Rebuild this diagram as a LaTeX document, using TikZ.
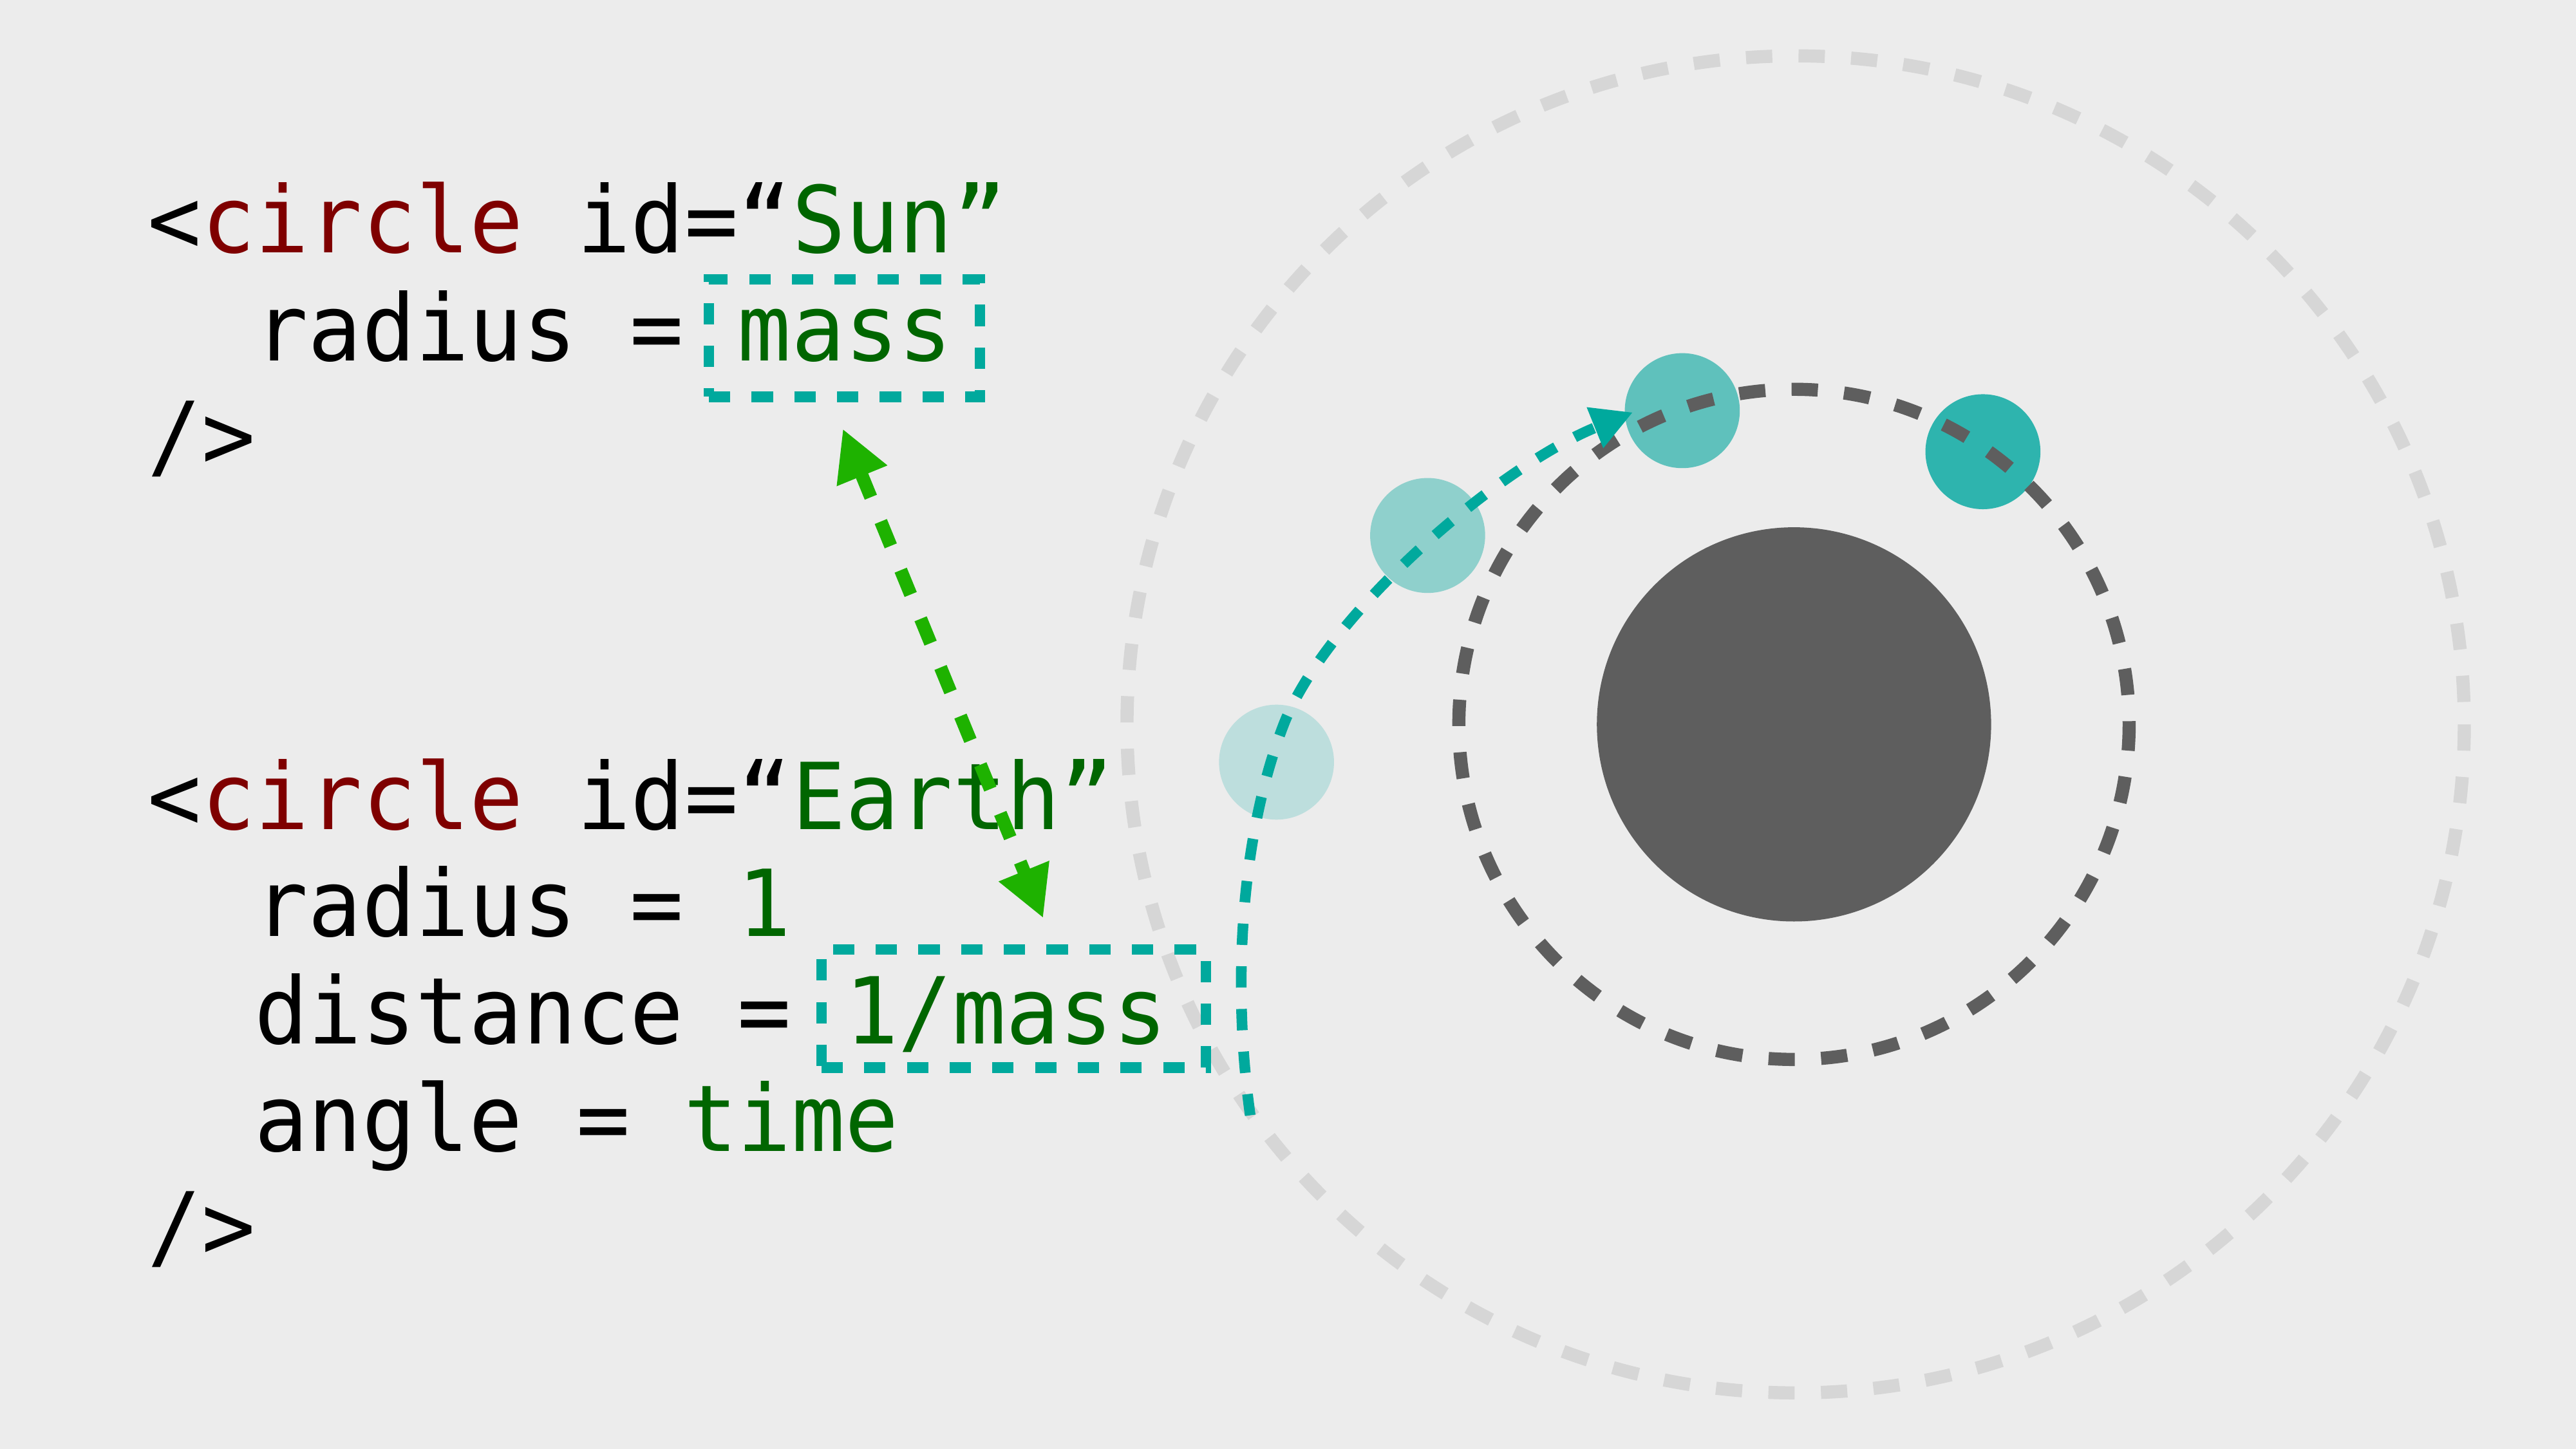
\documentclass[tikz,border=0pt]{standalone}
\usepackage{fontspec}
\newfontfamily\codefont[FakeStretch=0.965]{DejaVu Sans Mono}
\usetikzlibrary{arrows.meta,calc}
\definecolor{bg}{HTML}{ECECEC}
\definecolor{maroonc}{HTML}{7F0000}
\definecolor{codegreen}{HTML}{006600}
\definecolor{tealc}{HTML}{00A99D}
\definecolor{arrowg}{HTML}{1EB200}
\definecolor{darkg}{HTML}{5E5E5E}
\definecolor{lightg}{HTML}{D6D6D6}
\definecolor{pone}{HTML}{BDDEDD}
\definecolor{ptwo}{HTML}{8FD0CC}
\definecolor{pthree}{HTML}{5FC1BC}
\definecolor{pfour}{HTML}{2EB4AE}
\begin{document}
\begin{tikzpicture}[x=0.1mm,y=-0.1mm,
  code/.style={anchor=base west,inner sep=0pt,outer sep=0pt,text=black,
    font=\codefont\fontsize{16pt}{19pt}\selectfont},
  orbitline/.style={line width=0.8mm,dash pattern=on 1.6mm off 1.6mm},
  tealdash/.style={line width=0.65mm,dash pattern=on 1.3mm off 1.3mm},
  planet/.style={circle,minimum size=7mm,inner sep=0pt,outer sep=0pt},
  codebox/.style={draw=tealc,tealdash,rectangle,inner sep=0pt,outer sep=0pt},
  tealtip/.tip={Triangle[length=2.5mm,width=2.5mm]},
  greentip/.tip={Triangle[length=3.1mm,width=3.1mm]}
]
\fill[bg] (0,0) rectangle (1568,882);
\useasboundingbox (0,0) rectangle (1568,882);

% outer orbit
\coordinate (orbitc) at (1093,441);
\draw[lightg,orbitline] (orbitc) circle[radius=407];

% sun
\node[circle,fill=darkg,minimum size=24mm,inner sep=0pt,outer sep=0pt] (sun) at (1092,441) {};

% planets (earth positions)
\node[planet,fill=pone] (e1) at (777,464) {};
\node[planet,fill=ptwo] (e2) at (869,326) {};
\node[planet,fill=pthree] (e3) at (1024,250) {};
\node[planet,fill=pfour] (e4) at (1207,275) {};

% inner orbit
\draw[darkg,orbitline] (sun.center) circle[radius=204];

% code text
\node[code] (l1) at (90,154) {<\textcolor{maroonc}{circle} id=“\textcolor{codegreen}{Sun”}};
\node[code] (l2) at (155,219.5) {radius = \textcolor{codegreen}{mass}};
\node[code] (l3) at (90,285) {/>};
\node[code] (l4) at (90,504.8) {<\textcolor{maroonc}{circle} id=“\textcolor{codegreen}{Earth”}};
\node[code] (l5) at (155,570.2) {radius = \textcolor{codegreen}{1}};
\node[code] (l6) at (155,635.6) {distance = \textcolor{codegreen}{1/mass}};
\node[code] (l7) at (155,701) {angle = \textcolor{codegreen}{time}};
\node[code] (l8) at (90,766.4) {/>};

% highlight boxes
\node[codebox,minimum width=16.5mm,minimum height=7.15mm] (massbox) at (514,205.75) {};
\node[codebox,minimum width=23.4mm,minimum height=7.2mm] (distbox) at (617,614) {};

% teal path
\coordinate (tstart) at (761,679);
\draw[tealc,tealdash,-{tealtip}] (tstart)
  .. controls (750,600) and (755,510) .. (781,442)
  .. controls (806,376) and (910,285) .. ($(e3.west)+(5,1)$);

% green double arrow
\draw[arrowg,line width=0.8mm,dash pattern=on 1.6mm off 1.6mm,{greentip}-{greentip}]
  ($(massbox.south)+(-1,19.5)$) -- ($(distbox.north)+(18,-19)$);
\end{tikzpicture}
\end{document}
